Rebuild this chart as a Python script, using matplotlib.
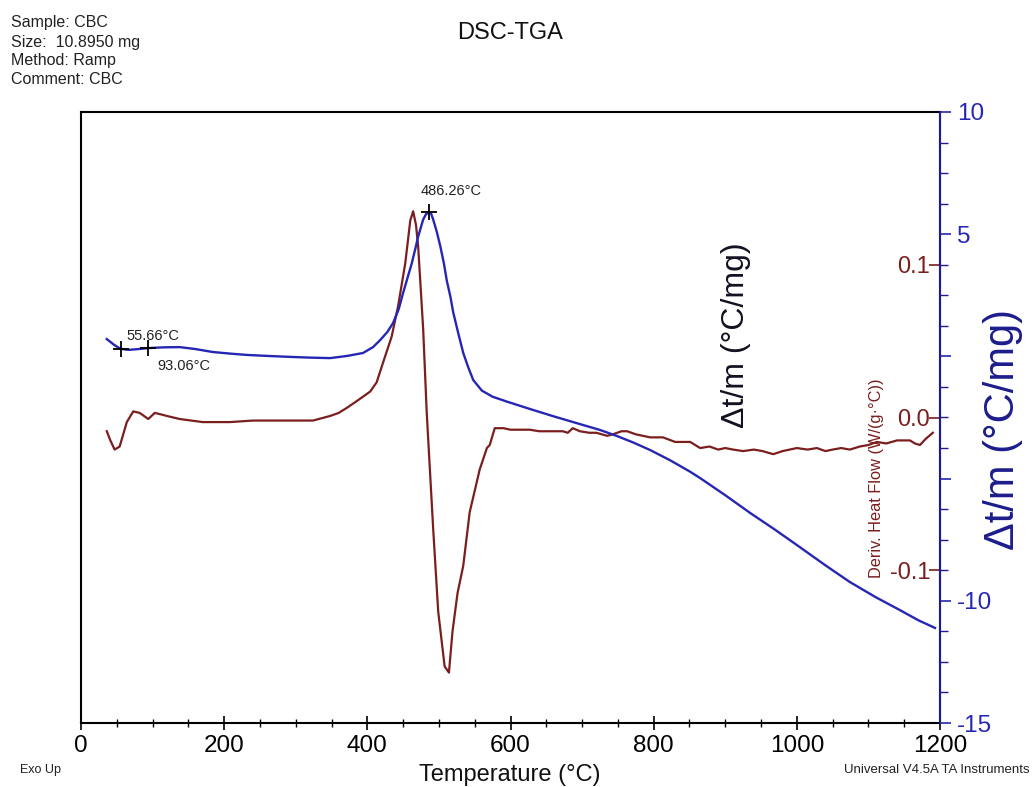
import numpy as np
import matplotlib
matplotlib.use("Agg")
import matplotlib.pyplot as plt
from matplotlib.ticker import MultipleLocator

plt.rcParams['font.family'] = ['Liberation Sans', 'DejaVu Sans']
plt.rcParams['axes.unicode_minus'] = False

# ---- data ----
blue_temp = [36, 45, 54.5, 62, 68, 80, 94, 115, 138,
             160, 184, 210, 232, 260, 292, 320, 348, 372, 394,
             408, 418, 428, 436, 444, 450, 456, 462, 467, 471,
             475, 478, 482, 486.26, 489, 492, 497, 502, 507, 511,
             516, 520, 527, 534, 541, 548, 560, 575, 595, 627,
             660, 697, 725, 749, 772, 795, 823, 851, 865, 900, 935, 970,
             1004, 1040, 1074, 1110, 1144, 1170, 1193]
blue_val = [0.71, 0.50, 0.32, 0.28, 0.27, 0.30, 0.34, 0.37, 0.38,
            0.30, 0.18, 0.11, 0.06, 0.02, -0.02, -0.05, -0.07, 0.02, 0.14,
            0.38, 0.67, 1.0, 1.37, 1.95, 2.6, 3.2, 3.8, 4.4, 4.9,
            5.3, 5.6, 5.82, 5.9, 5.85, 5.6, 5.1, 4.5, 3.8, 3.1,
            2.45, 1.8, 0.95, 0.14, -0.45, -0.97, -1.4, -1.65, -1.85, -2.15,
            -2.45, -2.77, -3.01, -3.26, -3.53, -3.83, -4.25, -4.72, -4.98,
            -5.68, -6.41, -7.1,
            -7.80, -8.55, -9.23, -9.85, -10.38, -10.8, -11.11]

brown_temp = [36, 41, 47, 54, 59, 64, 73, 82, 88, 94, 103, 112, 120, 138, 170,
              190, 208, 240, 278, 324, 348, 360, 372, 386, 404, 413, 422, 434,
              443, 453, 460, 464, 468, 471, 478, 483, 492, 499, 508, 514, 519,
              526, 534, 543, 557, 567, 571, 578, 590, 600, 615, 627, 640, 650,
              660, 673, 680, 687, 692, 697, 710, 720, 735, 743, 755, 763, 775,
              795, 813, 830, 851, 858, 865, 878, 890, 900, 911, 925, 940, 952,
              967, 980, 1000, 1015, 1028, 1040, 1050, 1062, 1074, 1088, 1100,
              1112, 1125, 1140, 1158, 1165, 1172, 1180, 1190]
brown_val = [-0.009, -0.015, -0.021, -0.019, -0.011, -0.003, 0.004, 0.003, 0.001,
             -0.001, 0.003, 0.002, 0.001, -0.001, -0.003, -0.003, -0.003, -0.002,
             -0.002, -0.002, 0.001, 0.003, 0.0065, 0.011, 0.017, 0.023, 0.036,
             0.053, 0.073, 0.101, 0.129, 0.135, 0.126, 0.112, 0.058, 0.003,
             -0.073, -0.127, -0.163, -0.167, -0.140, -0.115, -0.097, -0.062,
             -0.034, -0.020, -0.018, -0.007, -0.007, -0.008, -0.008, -0.008,
             -0.009, -0.009, -0.009, -0.009, -0.010, -0.007, -0.008, -0.009,
             -0.010, -0.010, -0.012, -0.011, -0.009, -0.009, -0.011, -0.013,
             -0.013, -0.016, -0.016, -0.018, -0.020, -0.019, -0.021, -0.020,
             -0.021, -0.022, -0.021, -0.022, -0.024, -0.022, -0.020, -0.021,
             -0.020, -0.022, -0.021, -0.020, -0.021, -0.019, -0.018, -0.016,
             -0.017, -0.015, -0.015, -0.017, -0.018, -0.014, -0.010]

mark_temps = [55.66, 93.06, 486.26]
mark_labels = ['55.66°C', '93.06°C', '486.26°C']

x_ticks = [0, 200, 400, 600, 800, 1000, 1200]
x_ticklabels = ['0', '200', '400', '600', '800', '1000', '1200']
blue_ticks = [10, 5, 0, -5, -10, -15]
blue_ticklabels = ['10', '5', '0', '-5', '-10', '-15']
brown_ticks = [0.1, 0.0, -0.1]
brown_ticklabels = ['0.1', '0.0', '-0.1']

info_lines = ['Sample: CBC', 'Size:  10.8950 mg', 'Method: Ramp', 'Comment: CBC']

# ---- styles ----
BLUE = '#2626b4'
NAVY = '#1c1c8c'
BROWN = '#7a1e1e'

W, H = 1033, 787
fig = plt.figure(figsize=(W / 100, H / 100), dpi=100)
L, R, T, B = 81, 940, 112, 723
ax = fig.add_axes([L / W, 1 - B / H, (R - L) / W, (B - T) / H])
ax2 = ax.twinx()

# brown (derivative heat flow) on host axes
ax.plot(brown_temp, brown_val, color=BROWN, lw=1.6, solid_joinstyle='round')
ax.set_xlim(0, 1200)
ax.set_ylim(-0.2, 0.2)
ax.set_xticks(x_ticks)
ax.set_xticklabels(x_ticklabels)
ax.xaxis.set_minor_locator(MultipleLocator(50))
ax.tick_params(axis='x', which='major', direction='inout', length=10, width=1.2,
               labelsize=17.5, pad=4, colors='black')
ax.tick_params(axis='x', which='minor', direction='inout', length=6, width=1.0)
ax.set_yticks(brown_ticks)
ax.set_yticklabels(brown_ticklabels)
ax.yaxis.set_ticks_position('right')
ax.tick_params(axis='y', which='major', direction='in', length=8, width=1.2,
               colors=BROWN, labelsize=17, pad=-7, left=False, labelleft=False,
               right=True, labelright=True)
for t in ax.get_yticklabels():
    t.set_horizontalalignment('right')
for s in ['left', 'top', 'bottom']:
    ax.spines[s].set_color('black')
    ax.spines[s].set_linewidth(1.5)
ax.spines['right'].set_color(NAVY)
ax.spines['right'].set_linewidth(1.5)

# blue (delta t / m) on twin axes
ax2.plot(blue_temp, blue_val, color=BLUE, lw=1.7, solid_joinstyle='round')
ax2.set_ylim(-15, 10)
ax2.set_yticks(blue_ticks)
ax2.set_yticklabels(blue_ticklabels)
ax2.yaxis.set_minor_locator(MultipleLocator(1.25))
ax2.tick_params(axis='y', which='major', direction='out', length=8, width=1.2,
                colors=BLUE, labelsize=17.5, pad=4)
ax2.tick_params(axis='y', which='minor', direction='out', length=6, width=1.0,
                colors=NAVY)
for s in ['left', 'top', 'bottom']:
    ax2.spines[s].set_visible(False)
ax2.spines['right'].set_color(NAVY)
ax2.spines['right'].set_linewidth(1.5)

# crosshair markers + labels
mark_vals = np.interp(mark_temps, blue_temp, blue_val)
ax2.plot(mark_temps, mark_vals, ls='none', marker='+', ms=12, mew=1.3, color='black')
offsets = [(4, 9), (7, -13), (-6, 15)]
for tx, ty, lab, off in zip(mark_temps, mark_vals, mark_labels, offsets):
    ax2.annotate(lab, (tx, ty), xytext=off, textcoords='offset points',
                 ha='left', va='center', fontsize=10.5, color='#222222')

# in-plot labels
fig.text(736 / W, 1 - 335 / H, 'Δt/m (°C/mg)', rotation=90, fontsize=23,
         color='#111122', ha='center', va='center')
fig.text(876 / W, 1 - 478 / H, 'Deriv. Heat Flow (W/(g·°C))', rotation=90,
         fontsize=11.8, color=BROWN, ha='center', va='center')
fig.text(1003 / W, 1 - 430 / H, 'Δt/m (°C/mg)', rotation=90, fontsize=30,
         color=NAVY, ha='center', va='center',
         bbox=dict(facecolor='white', edgecolor='none', pad=22))

# header / footer texts
baselines = [26.7, 46.5, 65.5, 84.5]
for line, yb in zip(info_lines, baselines):
    fig.text(11 / W, 1 - yb / H, line, fontsize=11.5, color='#222222',
             ha='left', va='baseline')
fig.text(510 / W, 1 - 33 / H, 'DSC-TGA', fontsize=17, ha='center', va='center',
         color='#111111')
fig.text(510 / W, 1 - 775 / H, 'Temperature (°C)', fontsize=17, ha='center',
         va='center', color='#111111')
fig.text(20 / W, 1 - 770 / H, 'Exo Up', fontsize=9, ha='left', va='center',
         color='#222222')
fig.text(1030 / W, 1 - 770 / H, 'Universal V4.5A TA Instruments', fontsize=9.5,
         ha='right', va='center', color='#222222')

fig.savefig('out.png', dpi=100)
